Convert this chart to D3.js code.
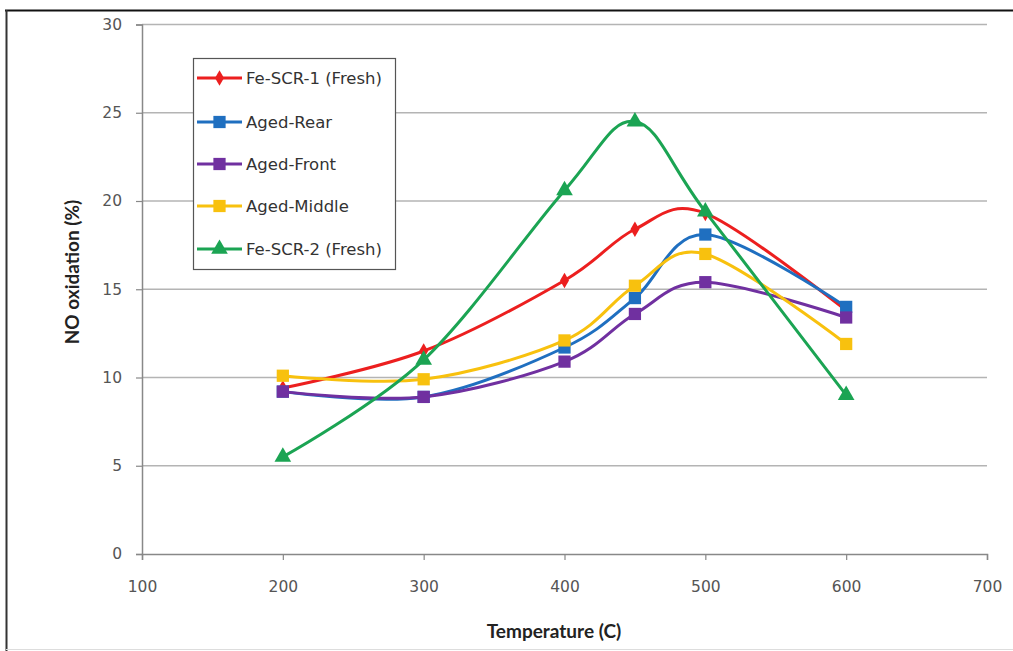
<!DOCTYPE html>
<html>
<head>
<meta charset="utf-8">
<script src="https://cdn.jsdelivr.net/npm/d3@7"></script>
<style>
  html, body { margin: 0; padding: 0; background: #fff; }
  svg { display: block; }
  text { font-family: "DejaVu Sans", Verdana, sans-serif; }
  .title { font-family: Lato, "Open Sans", sans-serif; }
</style>
</head>
<body>
<svg id="chart" width="1013" height="651"></svg>
<script>
// Measurement temperatures (C)
const temperatures = [200, 300, 400, 450, 500, 600];

// NO oxidation (%) per catalyst sample
const feScr1Fresh = [9.4, 11.5, 15.5, 18.4, 19.3, 13.8];
const agedRear    = [9.2, 8.9, 11.7, 14.5, 18.1, 14.0];
const agedFront   = [9.2, 8.9, 10.9, 13.6, 15.4, 13.4];
const agedMiddle  = [10.1, 9.9, 12.1, 15.2, 17.0, 11.9];
const feScr2Fresh = [5.5, 11.0, 20.6, 24.5, 19.4, 9.0];

const seriesNames = ["Fe-SCR-1 (Fresh)", "Aged-Rear", "Aged-Front", "Aged-Middle", "Fe-SCR-2 (Fresh)"];
const seriesValues = [feScr1Fresh, agedRear, agedFront, agedMiddle, feScr2Fresh];
const seriesColors = ["#ec1f1f", "#1f6fc0", "#7030a0", "#f8c10e", "#1ba453"];
const seriesMarkers = [d3.symbolDiamond, d3.symbolSquare, d3.symbolSquare, d3.symbolSquare, d3.symbolTriangle];
const markerSizes = [70, 150, 150, 150, 120];

const xTicks = [100, 200, 300, 400, 500, 600, 700];
const yTicks = [0, 5, 10, 15, 20, 25, 30];

const svg = d3.select("#chart");

// outer frame
svg.append("line").attr("x1", 5).attr("x2", 1013).attr("y1", 10.5).attr("y2", 10.5)
  .attr("stroke", "#111").attr("stroke-width", 2);
svg.append("line").attr("x1", 6.5).attr("x2", 6.5).attr("y1", 10).attr("y2", 651)
  .attr("stroke", "#333").attr("stroke-width", 2);
svg.append("line").attr("x1", 6).attr("x2", 1013).attr("y1", 649.5).attr("y2", 649.5)
  .attr("stroke", "#ddd").attr("stroke-width", 1);

const x = d3.scaleLinear().domain([100, 700]).range([142, 987]);
const y = d3.scaleLinear().domain([0, 30]).range([554, 24.5]);

// horizontal gridlines
svg.append("g").selectAll("line").data(yTicks.filter(d => d > 0)).join("line")
  .attr("x1", x(100)).attr("x2", x(700))
  .attr("y1", d => y(d)).attr("y2", d => y(d))
  .attr("stroke", "#b4b4b4").attr("stroke-width", 1.5);

// y axis
const yAxis = svg.append("g").attr("transform", `translate(${x(100)},0)`)
  .call(d3.axisLeft(y).tickValues(yTicks).tickSize(6).tickPadding(14));
yAxis.select(".domain").attr("stroke", "#888").attr("stroke-width", 1.5);
yAxis.selectAll(".tick line").attr("stroke", "#888").attr("stroke-width", 1.2);
yAxis.selectAll(".tick text").attr("fill", "#555").style("font-size", "15.5px")
  .style("font-family", "'DejaVu Sans', sans-serif");

// x axis
const xAxis = svg.append("g").attr("transform", `translate(0,${y(0)})`)
  .call(d3.axisBottom(x).tickValues(xTicks).tickSize(6).tickPadding(21));
xAxis.select(".domain").attr("stroke", "#888").attr("stroke-width", 1.5);
xAxis.selectAll(".tick line").attr("stroke", "#888").attr("stroke-width", 1.2);
xAxis.selectAll(".tick text").attr("fill", "#555").style("font-size", "15.5px")
  .style("font-family", "'DejaVu Sans', sans-serif");

// axis titles
svg.append("text").attr("class", "title").attr("x", 554).attr("y", 638).attr("text-anchor", "middle")
  .attr("font-weight", "bold").attr("font-size", 19).attr("fill", "#222")
  .text("Temperature (C)");
svg.append("text").attr("class", "title").attr("transform", "translate(79,272) rotate(-90)")
  .attr("text-anchor", "middle")
  .attr("font-weight", "bold").attr("font-size", 19).attr("fill", "#222")
  .text("NO oxidation (%)");

// smoothed series lines with markers
const line = d3.line()
  .x((d, i) => x(temperatures[i]))
  .y(d => y(d))
  .curve(d3.curveCardinal.tension(0));

seriesValues.forEach((vals, k) => {
  const g = svg.append("g");
  g.append("path").attr("d", line(vals)).attr("fill", "none")
    .attr("stroke", seriesColors[k]).attr("stroke-width", 3);
  g.selectAll("path.m").data(vals).join("path").attr("class", "m")
    .attr("transform", (d, i) => `translate(${x(temperatures[i])},${y(d)})`)
    .attr("d", d3.symbol().type(seriesMarkers[k]).size(markerSizes[k]))
    .attr("fill", seriesColors[k]);
});

// legend
const legend = svg.append("g");
legend.append("rect").attr("x", 193.5).attr("y", 58.5).attr("width", 202).attr("height", 211)
  .attr("fill", "#fff").attr("stroke", "#555").attr("stroke-width", 1.2);
const legendY = [78, 122, 164, 206, 249];
seriesNames.forEach((name, k) => {
  const row = legend.append("g").attr("transform", `translate(0,${legendY[k]})`);
  row.append("line").attr("x1", 197).attr("x2", 242).attr("y1", 0).attr("y2", 0)
    .attr("stroke", seriesColors[k]).attr("stroke-width", 3);
  row.append("path").attr("transform", "translate(219.5,0)")
    .attr("d", d3.symbol().type(seriesMarkers[k]).size(markerSizes[k]))
    .attr("fill", seriesColors[k]);
  row.append("text").attr("x", 246).attr("y", 6).attr("font-size", 16.5).attr("fill", "#333")
    .text(name);
});
</script>
</body>
</html>
